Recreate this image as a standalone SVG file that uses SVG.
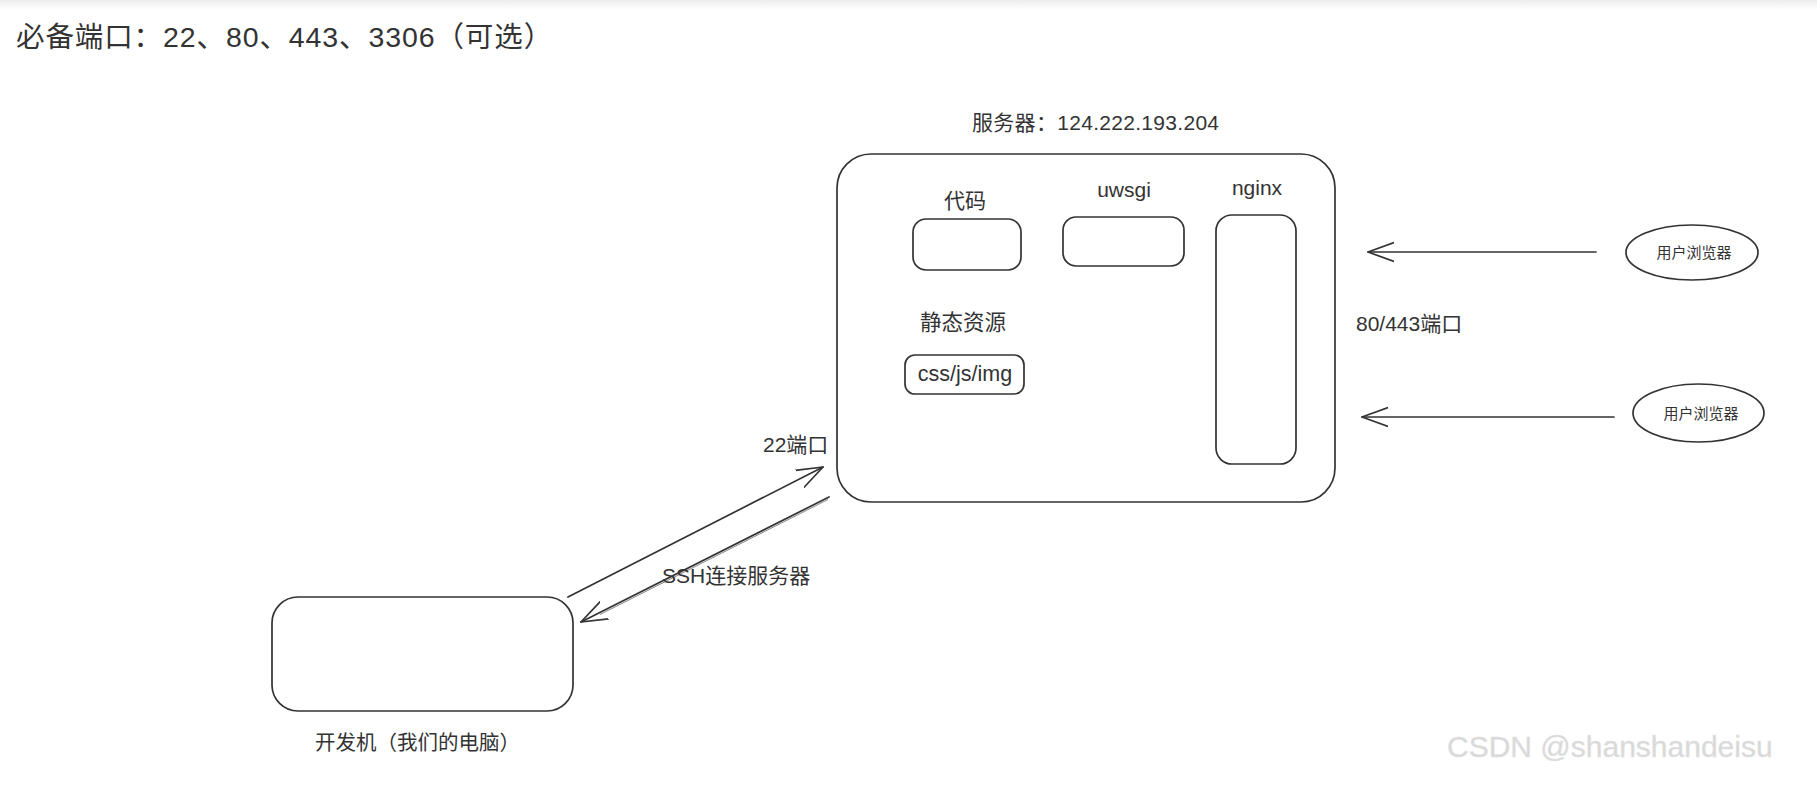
<svg xmlns="http://www.w3.org/2000/svg" width="1817" height="788" viewBox="0 0 1817 788">
<defs>
<linearGradient id="topband" x1="0" y1="0" x2="0" y2="1">
<stop offset="0" stop-color="#ececec"/>
<stop offset="1" stop-color="#ffffff"/>
</linearGradient>
<marker id="arr" viewBox="0 0 28 22" refX="26" refY="11" markerWidth="28" markerHeight="22" markerUnits="userSpaceOnUse" orient="auto">
<path d="M0,1.5 L26,11 L0,20.5" fill="none" stroke="#333" stroke-width="1.7" stroke-linecap="round" stroke-linejoin="round"/>
</marker>
</defs>
<style>
.box{fill:none;stroke:#333;stroke-width:1.7}
.t{font-family:"Liberation Sans","Noto Sans CJK SC",sans-serif;fill:#333}
.c{text-anchor:middle}
.ln{fill:none;stroke:#333;stroke-width:1.7;stroke-linecap:round}
</style>
<rect x="0" y="0" width="1817" height="788" fill="#ffffff"/>
<rect x="0" y="0" width="1817" height="10" fill="url(#topband)"/>
<text class="t" x="16" y="47" font-size="28.5" letter-spacing="0.9">必备端口：22、80、443、3306（可选）</text>

<g id="server">
<text class="t" x="972" y="130" font-size="21" letter-spacing="0.3">服务器：124.222.193.204</text>
<rect class="box" x="837" y="154" width="498" height="348" rx="34"/>
</g>
<g id="code">
<text class="t c" x="965" y="208" font-size="21">代码</text>
<rect class="box" x="913" y="219" width="108" height="51" rx="13"/>
</g>
<g id="uwsgi">
<text class="t c" x="1124" y="197" font-size="21">uwsgi</text>
<rect class="box" x="1063" y="217" width="121" height="49" rx="13"/>
</g>
<g id="nginx">
<text class="t c" x="1257" y="195" font-size="21">nginx</text>
<rect class="box" x="1216" y="215" width="80" height="249" rx="16"/>
</g>
<g id="static">
<text class="t c" x="963" y="330" font-size="21.5">静态资源</text>
<rect class="box" x="905" y="355" width="119" height="39" rx="10"/>
<text class="t c" x="965" y="381" font-size="21.5">css/js/img</text>
</g>
<g id="browser1">
<ellipse class="box" cx="1692" cy="252.5" rx="66" ry="27.5"/>
<text class="t c" x="1694" y="258" font-size="15">用户浏览器</text>
</g>
<g id="browser2">
<ellipse class="box" cx="1698.5" cy="413" rx="65.5" ry="29"/>
<text class="t c" x="1701" y="418.5" font-size="15">用户浏览器</text>
</g>
<g id="devbox">
<rect class="box" x="272" y="597" width="301" height="114" rx="26"/>
<text class="t" x="315" y="750" font-size="20.5">开发机（我们的电脑）</text>
</g>

<g id="connectors">
<line class="ln" x1="1596" y1="252" x2="1368" y2="252" marker-end="url(#arr)"/>
<line class="ln" x1="1614" y1="417" x2="1362" y2="417" marker-end="url(#arr)"/>
<line class="ln" x1="568" y1="597" x2="823" y2="467" marker-end="url(#arr)"/>
<line class="ln" x1="829" y1="497" x2="581" y2="622" marker-end="url(#arr)"/>
<line x1="828" y1="499.5" x2="600" y2="614.5" stroke="#666" stroke-width="0.8"/>
<text class="t" x="1356" y="331" font-size="21">80/443端口</text>
<text class="t" x="763" y="452" font-size="21">22端口</text>
<text class="t" x="662" y="583" font-size="21">SSH连接服务器</text>
</g>

<text x="1447" y="757" font-family="Liberation Sans, sans-serif" font-size="30" fill="#d8d8d8" stroke="#e4e4e4" stroke-width="0.5">CSDN @shanshandeisu</text>
</svg>
